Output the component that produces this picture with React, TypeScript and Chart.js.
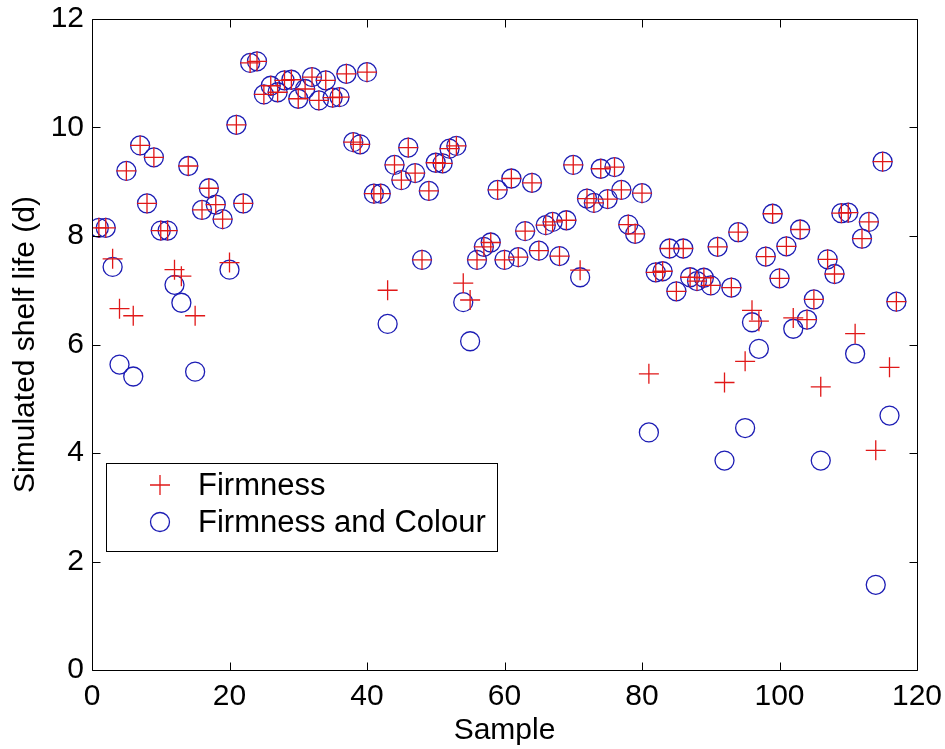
import React, { useEffect, useRef } from 'react';
import { Chart, registerables } from 'chart.js';

Chart.register(...registerables);

// Simulated shelf life (days) per sample, one value per sample number 1..117
const firmness = [
  8.15, 8.15, 7.58, 6.66, 9.2, 6.53, 9.67, 8.6, 9.45, 8.1,
  8.1, 7.38, 7.26, 9.29, 6.53, 8.48, 8.88, 8.58, 8.31, 7.51,
  10.05, 8.6, 11.19, 11.22, 10.61, 10.77, 10.65, 10.87, 10.88, 10.53,
  10.71, 10.93, 10.5, 10.87, 10.55, 10.56, 10.99, 9.73, 9.69, 11.02,
  8.78, 8.78, 7.0, 9.31, 9.03, 9.63, 9.16, 7.56, 8.83, 9.35,
  9.34, 9.61, 9.66, 7.13, 6.82, 7.56, 7.8, 7.88, 8.85, 7.56,
  9.06, 7.61, 8.09, 8.98, 7.73, 8.2, 8.26, 7.63, 8.29, 9.31,
  7.37, 8.69, 8.61, 9.24, 8.68, 9.27, 8.85, 8.21, 8.04, 8.79,
  5.46, 7.33, 7.35, 7.77, 6.98, 7.77, 7.24, 7.17, 7.23, 7.09,
  7.8, 5.3, 7.05, 8.07, 5.69, 6.63, 6.43, 7.62, 8.41, 7.22,
  7.81, 6.49, 8.12, 6.46, 6.83, 5.22, 7.57, 7.3, 8.42, 8.43,
  6.2, 7.95, 8.26, 4.05, 9.37, 5.58, 6.79,
];

const firmnessAndColour = [
  8.15, 8.15, 7.43, 5.63, 9.2, 5.41, 9.67, 8.6, 9.45, 8.1,
  8.1, 7.1, 6.77, 9.29, 5.5, 8.48, 8.88, 8.58, 8.31, 7.38,
  10.05, 8.6, 11.19, 11.22, 10.61, 10.77, 10.65, 10.87, 10.88, 10.53,
  10.71, 10.93, 10.5, 10.87, 10.55, 10.56, 10.99, 9.73, 9.69, 11.02,
  8.78, 8.78, 6.38, 9.31, 9.03, 9.63, 9.16, 7.56, 8.83, 9.35,
  9.34, 9.61, 9.66, 6.78, 6.06, 7.56, 7.8, 7.88, 8.85, 7.56,
  9.06, 7.61, 8.09, 8.98, 7.73, 8.2, 8.26, 7.63, 8.29, 9.31,
  7.24, 8.69, 8.61, 9.24, 8.68, 9.27, 8.85, 8.21, 8.04, 8.79,
  4.38, 7.33, 7.35, 7.77, 6.98, 7.77, 7.24, 7.17, 7.23, 7.09,
  7.8, 3.86, 7.05, 8.07, 4.46, 6.41, 5.92, 7.62, 8.41, 7.22,
  7.81, 6.29, 8.12, 6.46, 6.83, 3.86, 7.57, 7.3, 8.42, 8.43,
  5.83, 7.95, 8.26, 1.57, 9.37, 4.69, 6.79,
];

const seriesLabels = ['Firmness', 'Firmness and Colour'];
const xTitle = 'Sample';
const yTitle = 'Simulated shelf life (d)';

const FONT = "'Liberation Sans', Arial, Helvetica, sans-serif";
const RED = '#e01818';
const BLUE = '#1c1cb4';

// Draws the closed axes box with inward tick marks and the in-plot legend
const framePlugin = {
  id: 'frame',
  afterDatasetsDraw(chart: any) {
    const { ctx, chartArea, scales } = chart;
    const { left, right, top, bottom } = chartArea;
    const tl = 8;
    const L = Math.round(left) + 0.5;
    const R = Math.round(right) + 0.5;
    const T = Math.round(top) + 0.5;
    const B = Math.round(bottom) + 0.5;
    ctx.save();
    ctx.strokeStyle = '#000';
    ctx.lineWidth = 1;
    ctx.beginPath();
    ctx.rect(L, T, R - L, B - T);
    scales.x.ticks.forEach((t: any) => {
      const px = Math.round(scales.x.getPixelForValue(t.value)) + 0.5;
      ctx.moveTo(px, B);
      ctx.lineTo(px, B - tl);
      ctx.moveTo(px, T);
      ctx.lineTo(px, T + tl);
    });
    scales.y.ticks.forEach((t: any) => {
      const py = Math.round(scales.y.getPixelForValue(t.value)) + 0.5;
      ctx.moveTo(L, py);
      ctx.lineTo(L + tl, py);
      ctx.moveTo(R, py);
      ctx.lineTo(R - tl, py);
    });
    ctx.stroke();

    // legend box
    const bx = 106.5, by = 463.5, bw = 391, bh = 88;
    ctx.fillStyle = '#fff';
    ctx.fillRect(bx, by, bw, bh);
    ctx.strokeRect(bx, by, bw, bh);
    const rows = [485, 522];
    const mx = 160;
    chart.data.datasets.forEach((ds: any, i: number) => {
      const y = rows[i];
      ctx.strokeStyle = ds.borderColor;
      ctx.lineWidth = ds.pointBorderWidth;
      ctx.beginPath();
      if (ds.pointStyle === 'cross') {
        const r = ds.pointRadius;
        ctx.moveTo(mx - r, y);
        ctx.lineTo(mx + r, y);
        ctx.moveTo(mx, y - r);
        ctx.lineTo(mx, y + r);
      } else {
        ctx.arc(mx, y, ds.pointRadius, 0, Math.PI * 2);
      }
      ctx.stroke();
      ctx.fillStyle = '#000';
      ctx.font = `31px ${FONT}`;
      ctx.textAlign = 'left';
      ctx.textBaseline = 'middle';
      ctx.fillText(ds.label, 198, y + 1);
    });
    ctx.restore();
  },
};

export default function App() {
  const canvasRef = useRef<HTMLCanvasElement | null>(null);

  useEffect(() => {
    const canvas = canvasRef.current;
    if (!canvas) return;
    const chart = new Chart(canvas, {
      type: 'scatter',
      data: {
        datasets: [
          {
            label: seriesLabels[0],
            data: firmness.map((v, i) => ({ x: i + 1, y: v })),
            pointStyle: 'cross',
            pointRadius: 10,
            pointBorderWidth: 1.3,
            borderColor: RED,
            backgroundColor: RED,
            showLine: false,
          },
          {
            label: seriesLabels[1],
            data: firmnessAndColour.map((v, i) => ({ x: i + 1, y: v })),
            pointStyle: 'circle',
            pointRadius: 9.5,
            pointBorderWidth: 1.3,
            borderColor: BLUE,
            backgroundColor: 'rgba(0,0,0,0)',
            showLine: false,
          },
        ],
      },
      options: {
        responsive: false,
        animation: false,
        events: [],
        layout: { padding: { left: 0, top: 19, right: 28, bottom: 0 } },
        plugins: {
          legend: { display: false },
          tooltip: { enabled: false },
        },
        scales: {
          x: {
            type: 'linear',
            min: 0,
            max: 120,
            grid: { display: false, drawTicks: false },
            border: { display: false },
            ticks: {
              stepSize: 20,
              color: '#000',
              padding: 9,
              maxRotation: 0,
              font: { family: FONT, size: 30 },
            },
            title: {
              display: true,
              text: xTitle,
              color: '#000',
              font: { family: FONT, size: 30 },
              padding: { top: 0, bottom: 0 },
            },
            afterFit: (scale: any) => {
              scale.height = 79;
              scale.paddingLeft = 0;
              scale.paddingRight = 0;
            },
          },
          y: {
            type: 'linear',
            min: 0,
            max: 12,
            grid: { display: false, drawTicks: false },
            border: { display: false },
            ticks: {
              stepSize: 2,
              color: '#000',
              padding: 8,
              font: { family: FONT, size: 30 },
            },
            title: {
              display: true,
              text: yTitle,
              color: '#000',
              font: { family: FONT, size: 30 },
              padding: { top: 8, bottom: 0 },
            },
            afterFit: (scale: any) => {
              scale.width = 92;
              scale.paddingTop = 0;
              scale.paddingBottom = 0;
            },
          },
        },
      },
      plugins: [framePlugin],
    });
    return () => chart.destroy();
  }, []);

  return (
    <div style={{ position: 'fixed', left: 0, top: 0, width: 945, height: 749, background: '#fff' }}>
      <canvas ref={canvasRef} width={945} height={749} style={{ width: 945, height: 749, display: 'block' }} />
    </div>
  );
}
